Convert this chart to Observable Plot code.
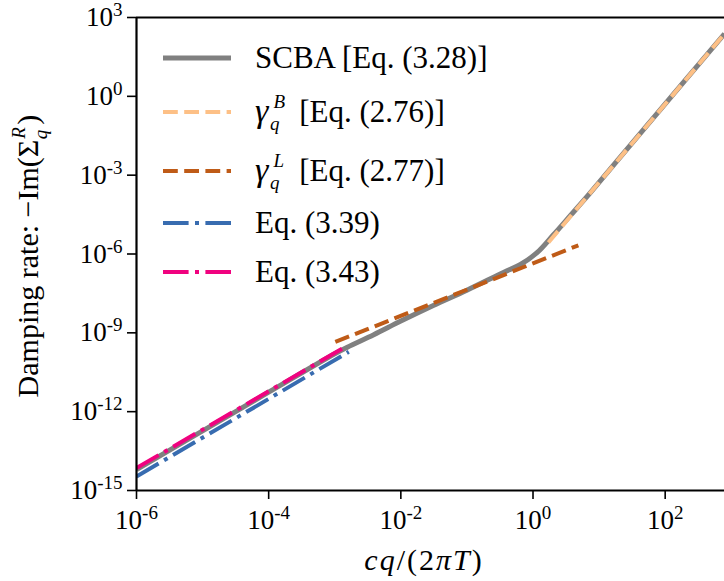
<!DOCTYPE html>
<html>
<head>
<meta charset="utf-8">
<script src="https://cdn.jsdelivr.net/npm/d3@7"></script>
<script src="https://cdn.jsdelivr.net/npm/@observablehq/plot@0.6"></script>
<style>
  html, body { margin: 0; padding: 0; background: #fff; }
  #chart { width: 724px; height: 581px; }
</style>
</head>
<body>
<div id="chart"></div>
<script>
// ---------- data ----------
const xTicks = [1e-6, 1e-4, 1e-2, 1, 1e2];
const yTicks = [1e-15, 1e-12, 1e-9, 1e-6, 1e-3, 1, 1e3];
const xDomain = [1e-6, 790];
const yDomain = [1e-15, 1e3];

// SCBA [Eq. (3.28)]
const scbaQ = [1e-6, 1e-5, 1e-4, 1e-3, 1.55e-3, 3.89e-3, 1e-2, 3.16e-2, 0.1, 0.363, 0.646, 1.15, 2.04, 3.72, 6.6, 20.9, 790];
const scbaG = [6.3e-15, 1.85e-13, 5.5e-12, 1.6e-10, 2.85e-10, 8.5e-10, 2.8e-9, 1.12e-8, 4.2e-8, 2.04e-7, 3.98e-7, 1.12e-6, 5.4e-6, 3.0e-5, 1.55e-4, 4.9e-3, 240];
// gamma_q^B [Eq. (2.76)]
const gammaBQ = [1.71, 790];
const gammaBG = [2.75e-6, 240];
// gamma_q^L [Eq. (2.77)]
const gammaLQ = [1.02e-3, 4.86];
const gammaLG = [4.5e-10, 2.14e-6];
// Eq. (3.39)
const eq339Q = [1e-6, 1.63e-3];
const eq339G = [3.4e-15, 1.9e-10];
// Eq. (3.43)
const eq343Q = [1e-6, 1.5e-3];
const eq343G = [7.2e-15, 3.1e-10];

const seriesNames = ["SCBA", "gammaB", "gammaL", "eq339", "eq343"];
const seriesColors = ["#808080", "#fdc086", "#bf5b17", "#386cb0", "#f0027f"];
const seriesWidths = [5, 4, 4, 4, 4];
const seriesDashes = [null, "14.8,6.4", "14.8,6.4", "25.6,6.4,4,6.4", "25.6,6.4,4,6.4"];
const legendMain = ["SCBA [Eq. (3.28)]", "γ", "γ", "Eq. (3.39)", "Eq. (3.43)"];
const legendSup = [null, "B", "L", null, null];
const legendSub = [null, "q", "q", null, null];
const legendRest = [null, " [Eq. (2.76)]", " [Eq. (2.77)]", null, null];

const seriesQ = [scbaQ, gammaBQ, gammaLQ, eq339Q, eq343Q];
const seriesG = [scbaG, gammaBG, gammaLG, eq339G, eq343G];

// ---------- build ----------
const FONT = "'Liberation Serif', 'Times New Roman', serif";
const fmt = d => "10^" + Math.round(Math.log10(d));

const lineMarks = seriesNames.map((name, i) => {
  const data = seriesQ[i].map((q, j) => ({q, g: seriesG[i][j]}));
  return Plot.line(data, {
    x: "q", y: "g",
    stroke: seriesColors[i],
    strokeWidth: seriesWidths[i],
    strokeDasharray: seriesDashes[i] || undefined,
    strokeLinecap: "butt",
    curve: i === 0 ? "catmull-rom" : "linear",
    clip: true
  });
});

const chart = Plot.plot({
  width: 724,
  height: 581,
  marginLeft: 136,
  marginRight: 0,
  marginTop: 17,
  marginBottom: 91,
  style: {fontFamily: FONT, fontSize: "27px", background: "white", color: "black", overflow: "visible"},
  x: {type: "log", domain: xDomain},
  y: {type: "log", domain: yDomain},
  marks: [
    ...lineMarks,
    Plot.ruleX([xDomain[0]], {stroke: "black", strokeWidth: 2.2}),
    Plot.ruleY([yDomain[0]], {stroke: "black", strokeWidth: 2.2}),
    Plot.ruleY([yDomain[1]], {stroke: "black", strokeWidth: 2.2}),
    Plot.axisX({ticks: xTicks, tickSize: 9, tickPadding: 10, tickFormat: fmt, label: null, strokeWidth: 1.6, fontSize: 27}),
    Plot.axisY({ticks: yTicks, tickSize: 9, tickPadding: 5, tickFormat: fmt, label: null, strokeWidth: 1.6, fontSize: 27})
  ]
});

document.getElementById("chart").appendChild(chart);
const svg = d3.select(chart);

// tick labels: 10^n with real superscripts
svg.selectAll('[aria-label="x-axis tick label"] text, [aria-label="y-axis tick label"] text').each(function () {
  const s = this.textContent;
  if (!s.includes("^")) return;
  const [base, exp] = s.split("^");
  const t = d3.select(this);
  t.text(null);
  t.append("tspan").text(base);
  t.append("tspan").attr("font-size", 19).attr("dy", -10).text(exp);
});

// legend
const rowY = [58, 112, 171, 223, 272];
const leg = svg.append("g")
  .attr("font-family", FONT)
  .attr("font-size", 31)
  .attr("text-anchor", "start");
seriesNames.forEach((name, i) => {
  leg.append("line")
    .attr("x1", 163).attr("x2", 231).attr("y1", rowY[i]).attr("y2", rowY[i])
    .attr("stroke", seriesColors[i]).attr("stroke-width", seriesWidths[i])
    .attr("stroke-dasharray", seriesDashes[i]);
  const t = leg.append("text").attr("x", 255).attr("y", rowY[i] + 10).attr("text-anchor", "start");
  if (legendSup[i]) {
    t.append("tspan").attr("font-style", "italic").attr("font-size", 34).text(legendMain[i]);
    t.append("tspan").attr("font-style", "italic").attr("font-size", 19).attr("dx", 5).attr("dy", -14).text(legendSup[i]);
    t.append("tspan").attr("font-style", "italic").attr("font-size", 19).attr("dx", legendSup[i] === "B" ? -15 : -14).attr("dy", 22).text(legendSub[i]);
    t.append("tspan").attr("dx", 12).attr("dy", -8).text(legendRest[i]);
  } else {
    t.text(legendMain[i]);
  }
});

// axis labels
const yl = svg.append("text")
  .attr("transform", "translate(38,256) rotate(-90)")
  .attr("text-anchor", "middle")
  .attr("font-family", FONT)
  .attr("font-size", 30);
yl.append("tspan").text("Damping rate: −Im(Σ");
yl.append("tspan").attr("font-style", "italic").attr("font-size", 19).attr("dx", 1).attr("dy", -13).text("R");
yl.append("tspan").attr("font-style", "italic").attr("font-size", 19).attr("dx", -12).attr("dy", 22).text("q");
yl.append("tspan").attr("dx", 5).attr("dy", -9).text(")");

const xl = svg.append("text")
  .attr("x", 424).attr("y", 570)
  .attr("text-anchor", "middle")
  .attr("font-family", FONT)
  .attr("font-size", 30)
  .attr("letter-spacing", 2);
xl.append("tspan").attr("font-style", "italic").text("cq");
xl.append("tspan").text("/(2");
xl.append("tspan").attr("font-style", "italic").text("πT");
xl.append("tspan").text(")");
</script>
</body>
</html>
